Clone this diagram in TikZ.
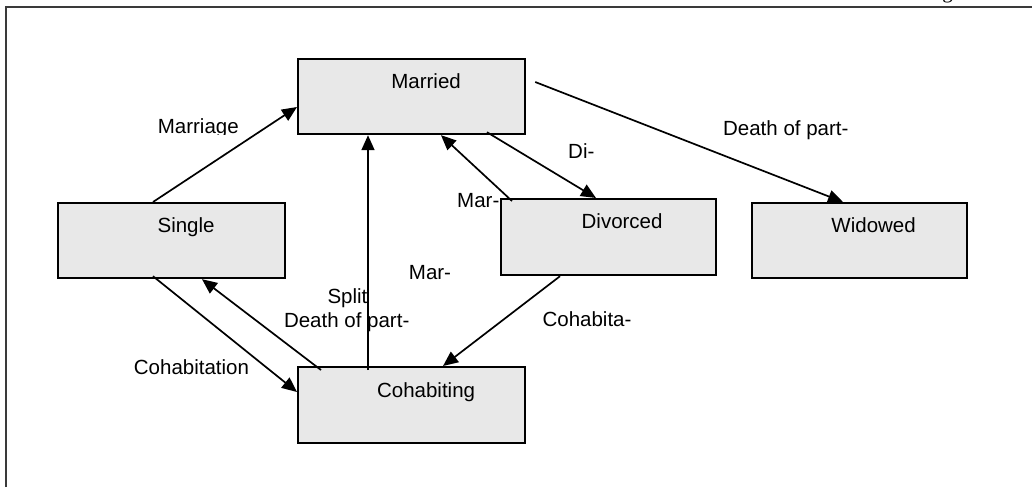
\documentclass[tikz,border=0pt]{standalone}
\usepackage{fontspec}
\setmainfont{Liberation Sans}
\newfontfamily\serifhead{Liberation Serif}
\usetikzlibrary{arrows.meta,calc}
\definecolor{boxgray}{HTML}{E8E8E8}
\definecolor{framegray}{HTML}{3A3A3A}
\begin{document}
\begin{tikzpicture}[x=1pt,y=-1pt,
  statebox/.style={draw=black, line width=2.2pt, fill=boxgray, minimum width=227pt, minimum height=75pt, anchor=north west, inner sep=0pt},
  statetext/.style={font=\fontsize{20.5}{24}\selectfont, inner sep=0pt, anchor=base},
  edgetext/.style={font=\fontsize{20.5}{24}\selectfont, inner sep=0pt, anchor=base},
  conn/.style={line width=1.7pt, -{Triangle[length=15pt,width=13pt]}},
  frameline/.style={draw=framegray, line width=2.4pt}]
\useasboundingbox (0,0) rectangle (1032,487);
% page frame and cut heading
\draw[frameline] (6,487) -- (6,7) -- (1032,7);
\node[font=\serifhead\fontsize{21}{24}\selectfont, inner sep=0pt, anchor=base] (headg) at (947.5,-1.2) {g};
% state boxes
\node[statebox] (married) at (297,58) {};
\node[statebox] (single) at (57,202) {};
\node[statebox, minimum height=76pt] (cohab) at (297,366) {};
\node[statebox, minimum width=215pt, minimum height=76pt] (divorced) at (500,198) {};
\node[statebox, minimum width=215pt] (widowed) at (751,202) {};
\node[statetext] (marriedt) at ([shift={(14.5,30)}]married.north) {Married};
\node[statetext] (singlet) at ([shift={(14.5,30)}]single.north) {Single};
\node[statetext] (cohabt) at ([shift={(14.5,31)}]cohab.north) {Cohabiting};
\node[statetext] (divorcedt) at ([shift={(13.5,30)}]divorced.north) {Divorced};
\node[statetext] (widowedt) at ([shift={(14,30)}]widowed.north) {Widowed};
% connectors
\draw[conn] ([shift={(96,0)}]single.north west) -- ([shift={(0,49)}]married.north west);
\draw[conn] ([shift={(96,-3)}]single.south west) -- ([shift={(0,26)}]cohab.north west);
\draw[conn] ([shift={(24,4)}]cohab.north west) -- ([shift={(145,0)}]single.south west);
\draw[conn] ([shift={(71,4)}]cohab.north west) -- ([shift={(71,0)}]married.south west);
\draw[conn] ([shift={(60,0)}]divorced.south west) -- ([shift={(146,0)}]cohab.north west);
\draw[conn] ([shift={(12,3)}]divorced.north west) -- ([shift={(144,0)}]married.south west);
\draw[conn] ([shift={(190,-3)}]married.south west) -- ([shift={(96,0)}]divorced.north west);
\draw[conn] ([shift={(9,24)}]married.north east) -- ([shift={(92,0)}]widowed.north west);
% connector labels
\begin{scope}
\clip (140,105) rectangle (260,134);
\node[edgetext] (lmarriage) at (198.3,133.3) {Marriage};
\end{scope}
\node[edgetext] (lcohabitation) at (191.5,374) {Cohabitation};
\node[edgetext] (lsplit) at (347.5,303.3) {Split};
\node[edgetext] (ldeath) at (346.7,327.3) {Death of part-};
\node[edgetext] (lmarmid) at (430,279) {Mar-};
\node[edgetext] (lmarup) at (478.3,207.3) {Mar-};
\node[edgetext] (lcohabita) at (587,326) {Cohabita-};
\node[edgetext] (ldi) at (581.3,158.3) {Di-};
\node[edgetext] (ldeathw) at (785.8,135) {Death of part-};
\end{tikzpicture}
\end{document}
